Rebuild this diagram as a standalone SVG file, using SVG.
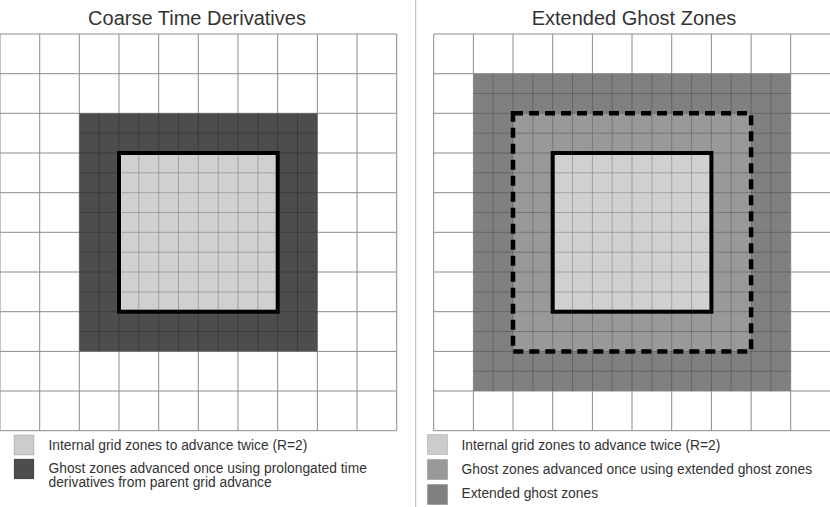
<svg xmlns="http://www.w3.org/2000/svg" width="830" height="507" viewBox="0 0 830 507">
<style>
.title{font-family:"Liberation Sans",Arial,sans-serif;font-size:20px;fill:#333;text-anchor:middle}
.leg{font-family:"Liberation Sans",Arial,sans-serif;font-size:13.8px;fill:#333}
.coarse{fill:none;stroke:#8c8c8c;stroke-width:1}
.fine{fill:none;stroke:#000;stroke-opacity:0.22;stroke-width:1}
.inner{fill:none;stroke:#000;stroke-width:4}
.dash{fill:none;stroke:#000;stroke-width:4.5;stroke-dasharray:10 6}
.sw{stroke:#000;stroke-opacity:0.15;stroke-width:1}
</style>
<rect width="830" height="507" fill="#fff"/>
<line x1="415.7" y1="0" x2="415.7" y2="507" stroke="#bbb" stroke-width="1"/>

<g id="left-panel">
<text class="title" x="197" y="25">Coarse Time Derivatives</text>
<path class="coarse" d="M0,34V430.7M39.7,34V430.7M79.3,34V430.7M119,34V430.7M158.7,34V430.7M198.3,34V430.7M238,34V430.7M277.7,34V430.7M317.4,34V430.7M357,34V430.7M396.7,34V430.7M0,34H396.7M0,73.7H396.7M0,113.3H396.7M0,153H396.7M0,192.7H396.7M0,232.3H396.7M0,272H396.7M0,311.7H396.7M0,351.4H396.7M0,391H396.7M0,430.7H396.7"/>
<rect id="left-ghost" x="79.3" y="113.3" width="238.1" height="238.1" fill="#4d4d4d"/>
<rect id="left-internal" x="119" y="153" width="158.7" height="158.7" fill="#d0d0d0"/>
<path class="fine" d="M99.2,113.3V351.4M119,113.3V351.4M138.8,113.3V351.4M158.7,113.3V351.4M178.5,113.3V351.4M198.3,113.3V351.4M218.2,113.3V351.4M238,113.3V351.4M257.9,113.3V351.4M277.7,113.3V351.4M297.5,113.3V351.4M79.3,133.2H317.4M79.3,153H317.4M79.3,172.8H317.4M79.3,192.7H317.4M79.3,212.5H317.4M79.3,232.3H317.4M79.3,252.2H317.4M79.3,272H317.4M79.3,291.9H317.4M79.3,311.7H317.4M79.3,331.5H317.4"/>
<rect class="inner" x="119" y="153" width="158.7" height="158.7"/>
</g>

<g id="right-panel">
<text class="title" x="634" y="25">Extended Ghost Zones</text>
<path class="coarse" d="M433.7,34V430.7M473.4,34V430.7M513,34V430.7M552.7,34V430.7M592.4,34V430.7M632,34V430.7M671.7,34V430.7M711.4,34V430.7M751.1,34V430.7M790.7,34V430.7M433.7,34H830M433.7,73.7H830M433.7,113.3H830M433.7,153H830M433.7,192.7H830M433.7,232.3H830M433.7,272H830M433.7,311.7H830M433.7,351.4H830M433.7,391H830M433.7,430.7H830"/>
<rect id="right-extended" x="473.4" y="73.7" width="317.3" height="317.3" fill="#808080"/>
<rect id="right-ghost" x="513" y="113.3" width="238.1" height="238.1" fill="#999999"/>
<rect id="right-internal" x="552.7" y="153" width="158.7" height="158.7" fill="#d0d0d0"/>
<path class="fine" d="M493.2,73.7V391M513,73.7V391M532.9,73.7V391M552.7,73.7V391M572.5,73.7V391M592.4,73.7V391M612.2,73.7V391M632,73.7V391M651.9,73.7V391M671.7,73.7V391M691.6,73.7V391M711.4,73.7V391M731.2,73.7V391M751.1,73.7V391M770.9,73.7V391M473.4,93.5H790.7M473.4,113.3H790.7M473.4,133.2H790.7M473.4,153H790.7M473.4,172.8H790.7M473.4,192.7H790.7M473.4,212.5H790.7M473.4,232.3H790.7M473.4,252.2H790.7M473.4,272H790.7M473.4,291.9H790.7M473.4,311.7H790.7M473.4,331.5H790.7M473.4,351.4H790.7M473.4,371.2H790.7"/>
<rect class="inner" x="552.7" y="153" width="158.7" height="158.7"/>
<rect class="dash" x="513" y="113.3" width="238.1" height="238.1"/>
</g>

<g id="left-legend">
<rect class="sw" x="14" y="435" width="20" height="20" fill="#cccccc"/>
<text class="leg" x="48.5" y="450">Internal grid zones to advance twice (R=2)</text>
<rect class="sw" x="14" y="459" width="20" height="20" fill="#4d4d4d"/>
<text class="leg" x="48.5" y="473">Ghost zones advanced once using prolongated time</text>
<text class="leg" x="48.5" y="487">derivatives from parent grid advance</text>
</g>

<g id="right-legend">
<rect class="sw" x="427.5" y="434.5" width="20" height="20" fill="#cccccc"/>
<text class="leg" x="461.5" y="450">Internal grid zones to advance twice (R=2)</text>
<rect class="sw" x="427.5" y="459.5" width="20" height="20" fill="#999999"/>
<text class="leg" x="461.5" y="473.5">Ghost zones advanced once using extended ghost zones</text>
<rect class="sw" x="427.5" y="484.5" width="20" height="20" fill="#808080"/>
<text class="leg" x="461.5" y="497.5">Extended ghost zones</text>
</g>
</svg>
